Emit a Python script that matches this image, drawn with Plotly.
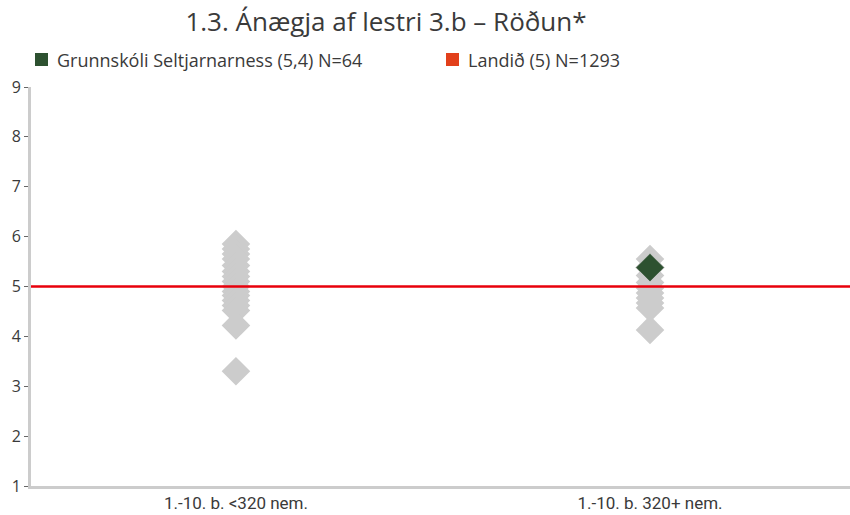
import plotly.graph_objects as go

categories = ["1.-10. b. <320 nem.", "1.-10. b. 320+ nem."]
others_small = [5.85, 5.75, 5.65, 5.55, 5.42, 5.3, 5.2, 5.1, 5.0, 4.9, 4.82, 4.72, 4.62, 4.52, 4.22, 3.3]
others_large = [5.55, 5.22, 5.08, 4.97, 4.87, 4.77, 4.67, 4.57, 4.13]
school_cat = "1.-10. b. 320+ nem."
school_value = 5.38
national_value = 5.0
school_label = "Grunnskóli Seltjarnarness (5,4) N=64"
national_label = "Landið (5) N=1293"
title = "1.3. Ánægja af lestri 3.b – Röðun*"

GREY = "#cccccc"
GREEN = "#2d5130"
RED = "#e8000b"
RED_LEG = "#e2401b"
TXT = "#3a3a3a"

W, H = 850, 515
L, R, T, B = 31, 0, 87, 29
PW, PH = W - L - R, H - T - B


def px(x):
    return (x - L) / PW


def py(y):
    return (H - B - y) / PH


fig = go.Figure()
fig.add_trace(go.Scatter(
    x=[categories[0]] * len(others_small) + [categories[1]] * len(others_large),
    y=others_small + others_large,
    mode="markers",
    marker=dict(symbol="diamond", size=22, color=GREY),
    showlegend=False, hoverinfo="y"))
fig.add_trace(go.Scatter(
    x=[school_cat], y=[school_value], mode="markers",
    marker=dict(symbol="diamond", size=22, color=GREEN, line=dict(width=1, color=GREY)),
    showlegend=False))

fig.add_hline(y=national_value, line=dict(color=RED, width=2.5))

# manual legend
legend_items = [(school_label, GREEN, 35), (national_label, RED_LEG, 446)]
for label, col, x0 in legend_items:
    fig.add_shape(type="rect", xref="paper", yref="paper",
                  x0=px(x0), x1=px(x0 + 13), y0=py(66), y1=py(53),
                  fillcolor=col, line=dict(width=0))
    fig.add_annotation(text=label, xref="paper", yref="paper",
                       x=px(x0 + 20), y=py(60), xanchor="left", yanchor="middle",
                       showarrow=False, font=dict(size=18, color=TXT, family="Open Sans"))

fig.update_layout(
    width=W, height=H,
    margin=dict(l=L, r=R, t=T, b=B),
    plot_bgcolor="white", paper_bgcolor="white",
    font=dict(family="Open Sans", color=TXT),
    showlegend=False,
    title=dict(text=title, x=386 / W, xanchor="center", xref="container",
               y=1 - 22 / H, yanchor="middle", yref="container",
               font=dict(size=26, color=TXT, family="Open Sans")),
    xaxis=dict(type="category", categoryorder="array", categoryarray=categories,
               range=[-0.495, 1.483], showgrid=False, showline=True, linecolor=GREY,
               linewidth=3, ticks="", automargin=False,
               tickfont=dict(size=17, family="Roboto", color=TXT)),
    yaxis=dict(range=[1, 9], dtick=1, showgrid=False, showline=True, linecolor=GREY,
               linewidth=3, ticks="outside", ticklen=4, tickcolor="#666666", tickwidth=1,
               zeroline=False, automargin=False,
               tickfont=dict(size=16, family="Open Sans", color=TXT)),
)
fig.write_html("out.html", config={"displayModeBar": False},
               post_script="document.body.style.margin='0';document.body.style.overflow='hidden';")
